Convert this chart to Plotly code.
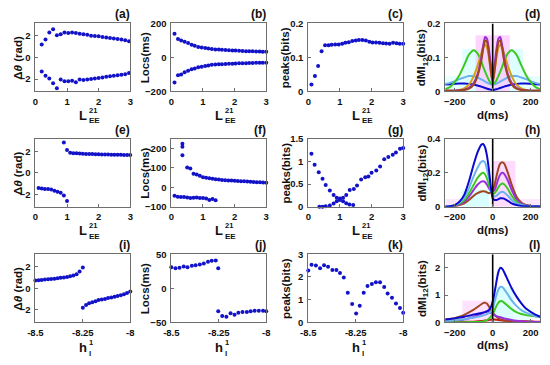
import plotly.graph_objects as go

# ---------------- data ----------------
# (a) phase difference vs L_EE^21
a_x = [0.2, 0.32, 0.44, 0.56, 0.68, 0.8, 0.92, 1.04, 1.16, 1.28, 1.4, 1.52, 1.64, 1.76,
       1.88, 2.0, 2.12, 2.24, 2.36, 2.48, 2.6, 2.72, 2.84, 2.96]
a_up = [1.2, 1.65, 2.3, 2.6, 2.05, 2.15, 2.3, 2.25, 2.3, 2.25, 2.2, 2.15, 2.1, 2.0, 1.98,
        1.95, 1.9, 1.85, 1.8, 1.75, 1.7, 1.65, 1.58, 1.5]
a_lo = [-1.3, -1.7, -1.95, -2.4, -2.85, -2.05, -2.2, -2.2, -2.15, -2.3, -2.05, -2.1, -2.05,
        -2.0, -1.95, -1.9, -1.85, -1.8, -1.75, -1.7, -1.65, -1.6, -1.55, -1.45]

# (b), (c)
bc_x = [0.1, 0.21, 0.31, 0.42, 0.53, 0.64, 0.74, 0.85, 0.96, 1.07, 1.17, 1.28, 1.39, 1.5,
        1.6, 1.71, 1.82, 1.93, 2.03, 2.14, 2.25, 2.36, 2.46, 2.57, 2.68, 2.79, 2.89, 3.0]
b_up = [140, 108, 100, 92, 85, 75, 68, 62, 58, 55, 52, 50, 47, 46, 45, 44, 42, 41, 40, 39,
        38, 37, 36, 36, 35, 35, 34, 34]
b_lo = [-148, -105, -100, -88, -78, -70, -65, -58, -55, -50, -47, -44, -42, -41, -40, -39,
        -38, -37, -36, -35, -35, -34, -33, -33, -32, -32, -31, -31]
c_pk = [0.02, 0.045, 0.075, 0.118, 0.136, 0.136, 0.137, 0.138, 0.138, 0.14, 0.143, 0.145,
        0.148, 0.15, 0.151, 0.151, 0.15, 0.146, 0.144, 0.144, 0.143, 0.142, 0.141, 0.14,
        0.143, 0.142, 0.14, 0.14]

# (e)
e_x_lo = [0.1, 0.2, 0.3, 0.4, 0.5, 0.6, 0.7, 0.8, 0.9, 1.0]
e_lo = [-1.4, -1.45, -1.5, -1.5, -1.55, -1.65, -1.75, -1.85, -2.1, -2.6]
e_x_up = [0.9, 1.0, 1.1, 1.2, 1.3, 1.4, 1.5, 1.6, 1.7, 1.8, 1.9, 2.0, 2.1, 2.2, 2.3, 2.4,
          2.5, 2.6, 2.7, 2.8, 2.9, 3.0]
e_up = [2.8, 2.1, 1.85, 1.82, 1.8, 1.78, 1.76, 1.75, 1.74, 1.73, 1.72, 1.71, 1.7, 1.7,
        1.69, 1.68, 1.68, 1.67, 1.67, 1.66, 1.66, 1.65]

# (f)
f_x_lo = [0.1, 0.2, 0.3, 0.4, 0.5, 0.6, 0.7, 0.8, 0.9, 1.0, 1.1, 1.2, 1.3, 1.4]
f_lo = [-43, -48, -50, -50, -52, -55, -53, -52, -55, -55, -58, -65, -60, -67]
f_x_up = [0.35, 0.35, 0.35, 0.5, 0.6, 0.7, 0.8, 0.9, 1.0, 1.1, 1.2, 1.3, 1.4, 1.5, 1.6,
          1.7, 1.8, 1.9, 2.0, 2.1, 2.2, 2.3, 2.4, 2.5, 2.6, 2.7, 2.8, 2.9, 3.0]
f_up = [225, 210, 165, 102, 97, 70, 66, 60, 52, 50, 47, 45, 42, 40, 38, 37, 36, 35, 34,
        33, 32, 31, 30, 29, 28, 27, 26, 25, 24]

# (g)
g_x1 = [0.1, 0.2, 0.33, 0.45, 0.55, 0.68, 0.8, 0.9, 1.0, 1.1, 1.2, 1.3, 1.42]
g_y1 = [1.17, 0.93, 0.76, 0.62, 0.48, 0.36, 0.26, 0.2, 0.18, 0.12, 0.08, 0.05, 0.04]
g_x2 = [0.35, 0.45, 0.55, 0.68, 0.8, 0.9, 1.0, 1.1, 1.2, 1.31, 1.44, 1.54, 1.67, 1.8, 1.9,
        2.0, 2.15, 2.27, 2.4, 2.53, 2.67, 2.77, 2.9, 3.0]
g_y2 = [0.0, 0.0, 0.01, 0.03, 0.07, 0.12, 0.15, 0.2, 0.26, 0.37, 0.39, 0.47, 0.6, 0.65,
        0.67, 0.75, 0.8, 0.89, 1.05, 1.1, 1.15, 1.2, 1.28, 1.3]

# (i)
i_x1 = [-8.5, -8.483, -8.467, -8.45, -8.433, -8.417, -8.4, -8.383, -8.367, -8.35, -8.333,
        -8.317, -8.3, -8.283, -8.267, -8.25]
i_y1 = [0.72, 0.74, 0.77, 0.8, 0.82, 0.85, 0.88, 0.92, 0.96, 1.0, 1.05, 1.1, 1.18, 1.3,
        1.55, 1.92]
i_x2 = [-8.25, -8.233, -8.217, -8.2, -8.183, -8.167, -8.15, -8.133, -8.117, -8.1, -8.083,
        -8.067, -8.05, -8.033, -8.017, -8.0]
i_y2 = [-1.8, -1.55, -1.4, -1.3, -1.2, -1.1, -1.05, -1.0, -0.9, -0.85, -0.8, -0.72, -0.65,
        -0.55, -0.45, -0.3]

# (j)
j_x1 = [-8.5, -8.478, -8.457, -8.435, -8.415, -8.392, -8.372, -8.35, -8.329, -8.307,
        -8.287, -8.266, -8.253]
j_y1 = [31, 29.5, 30, 32, 31, 33, 34, 35, 36.5, 39, 40.5, 41, 29.5]
j_x2 = [-8.253, -8.232, -8.21, -8.188, -8.167, -8.147, -8.125, -8.102, -8.082, -8.061,
        -8.039, -8.017, -8.0]
j_y2 = [-34, -41, -42, -37, -39, -36, -35, -35, -34, -33, -33, -33, -34]

# (k)
k_x = [-8.5, -8.483, -8.46, -8.438, -8.417, -8.396, -8.373, -8.352, -8.333, -8.313, -8.292,
       -8.269, -8.248, -8.229, -8.208, -8.188, -8.165, -8.144, -8.122, -8.1, -8.082, -8.059,
       -8.038, -8.017, -8.0]
k_y = [2.28, 2.54, 2.5, 2.38, 2.52, 2.45, 2.31, 2.31, 2.17, 1.97, 1.3, 0.8, 0.38, 0.73,
       1.3, 1.6, 1.69, 1.76, 1.76, 1.55, 1.27, 1.08, 0.83, 0.63, 0.42]

# dMI curves (d), (h), (l) sampled at d (ms)
d_ms = [-250, -225, -200, -175, -150, -125, -100, -80, -60, -50, -40, -30, -20, -10, 0,
        10, 20, 30, 40, 50, 60, 80, 100, 125, 150, 175, 200, 225, 250]

d_blue = [0.020, 0.021, 0.022, 0.023, 0.023, 0.022, 0.020, 0.017, 0.014, 0.012, 0.010, 0.008,
          0.006, 0.005, 0.004, 0.005, 0.006, 0.008, 0.010, 0.012, 0.014, 0.017, 0.020, 0.022,
          0.023, 0.023, 0.022, 0.021, 0.020]
d_lblue = [0.022, 0.025, 0.030, 0.036, 0.041, 0.045, 0.045, 0.041, 0.035, 0.032, 0.029, 0.026,
           0.023, 0.021, 0.020, 0.021, 0.023, 0.026, 0.029, 0.032, 0.035, 0.041, 0.045, 0.045,
           0.041, 0.036, 0.030, 0.025, 0.022]
d_green = [0.006, 0.013, 0.027, 0.048, 0.078, 0.108, 0.121, 0.112, 0.088, 0.072, 0.058, 0.045,
           0.033, 0.025, 0.020, 0.025, 0.033, 0.045, 0.058, 0.072, 0.088, 0.112, 0.121, 0.108,
           0.078, 0.048, 0.027, 0.013, 0.006]
d_orange = [0.002, 0.002, 0.002, 0.004, 0.009, 0.020, 0.045, 0.075, 0.112, 0.130, 0.138, 0.128,
            0.100, 0.060, 0.030, 0.060, 0.100, 0.128, 0.138, 0.130, 0.112, 0.075, 0.045, 0.020,
            0.009, 0.004, 0.002, 0.002, 0.002]
d_purple = [0.002, 0.002, 0.002, 0.003, 0.005, 0.010, 0.025, 0.050, 0.100, 0.135, 0.160, 0.155,
            0.125, 0.080, 0.050, 0.080, 0.125, 0.155, 0.160, 0.135, 0.100, 0.050, 0.025, 0.010,
            0.005, 0.003, 0.002, 0.002, 0.002]
d_brown = [0.002, 0.002, 0.002, 0.003, 0.004, 0.008, 0.020, 0.045, 0.090, 0.125, 0.150, 0.145,
           0.110, 0.060, 0.025, 0.060, 0.110, 0.145, 0.150, 0.125, 0.090, 0.045, 0.020, 0.008,
           0.004, 0.003, 0.002, 0.002, 0.002]

h_blue = [0.0, 0.003, 0.01, 0.03, 0.07, 0.15, 0.25, 0.32, 0.365, 0.37, 0.35, 0.3, 0.22, 0.12,
          0.05, 0.04, 0.04, 0.045, 0.05, 0.05, 0.048, 0.035, 0.02, 0.01, 0.005, 0.003, 0.002,
          0.001, 0.001]
h_lblue = [0.0, 0.003, 0.01, 0.025, 0.055, 0.11, 0.18, 0.23, 0.265, 0.27, 0.26, 0.22, 0.17,
           0.11, 0.07, 0.06, 0.065, 0.075, 0.085, 0.088, 0.085, 0.065, 0.04, 0.02, 0.01, 0.005,
           0.003, 0.002, 0.001]
h_green = [0.0, 0.002, 0.008, 0.02, 0.04, 0.08, 0.13, 0.17, 0.195, 0.2, 0.19, 0.165, 0.13,
           0.095, 0.075, 0.08, 0.095, 0.115, 0.13, 0.137, 0.133, 0.105, 0.065, 0.03, 0.013,
           0.006, 0.003, 0.002, 0.001]
h_purple = [0.0, 0.002, 0.006, 0.015, 0.03, 0.06, 0.1, 0.13, 0.148, 0.15, 0.145, 0.13, 0.11,
            0.095, 0.09, 0.1, 0.13, 0.165, 0.19, 0.2, 0.195, 0.155, 0.1, 0.045, 0.018, 0.008,
            0.004, 0.002, 0.001]
h_brown = [0.0, 0.001, 0.004, 0.01, 0.02, 0.04, 0.065, 0.08, 0.09, 0.092, 0.09, 0.085, 0.08,
           0.085, 0.1, 0.13, 0.18, 0.225, 0.255, 0.262, 0.255, 0.2, 0.13, 0.06, 0.025, 0.01,
           0.005, 0.002, 0.001]

l_blue = [0.1, 0.12, 0.14, 0.17, 0.2, 0.24, 0.28, 0.31, 0.34, 0.35, 0.37, 0.4, 0.45, 0.55,
          0.75, 1.1, 1.5, 1.85, 2.0, 1.97, 1.85, 1.55, 1.25, 0.95, 0.7, 0.5, 0.38, 0.28, 0.2]
l_lblue = [0.05, 0.06, 0.07, 0.09, 0.11, 0.14, 0.17, 0.2, 0.23, 0.25, 0.27, 0.3, 0.33, 0.38,
           0.5, 0.75, 1.0, 1.2, 1.3, 1.3, 1.22, 1.02, 0.8, 0.6, 0.45, 0.35, 0.28, 0.22, 0.18]
l_green = [0.0, 0.0, 0.0, 0.0, 0.0, 0.002, 0.005, 0.01, 0.02, 0.03, 0.05, 0.08, 0.13, 0.2,
           0.3, 0.45, 0.6, 0.72, 0.77, 0.77, 0.72, 0.6, 0.48, 0.37, 0.3, 0.26, 0.24, 0.22, 0.2]
l_brown = [0.1, 0.12, 0.15, 0.2, 0.27, 0.36, 0.46, 0.56, 0.66, 0.7, 0.72, 0.68, 0.58, 0.45,
           0.35, 0.27, 0.2, 0.15, 0.11, 0.09, 0.07, 0.05, 0.04, 0.03, 0.02, 0.02, 0.015, 0.01,
           0.01]
l_purple = [0.03, 0.04, 0.05, 0.07, 0.1, 0.14, 0.19, 0.25, 0.31, 0.35, 0.38, 0.4, 0.38, 0.34,
            0.3, 0.26, 0.22, 0.2, 0.18, 0.16, 0.14, 0.11, 0.08, 0.05, 0.03, 0.02, 0.015, 0.01,
            0.01]
l_red = [0.0, 0.0, 0.005, 0.008, 0.01, 0.015, 0.02, 0.03, 0.04, 0.05, 0.06, 0.07, 0.08, 0.09,
         0.1, 0.1, 0.09, 0.08, 0.07, 0.06, 0.055, 0.05, 0.045, 0.04, 0.035, 0.03, 0.025, 0.02,
         0.02]

# faint shaded error-band blocks behind the dMI curves: (panel, x0, x1, y0, y1, colour)
bands = [
    (4, -160, 160, 0, 0.125, "rgba(200,255,255,0.6)"),
    (4, -90, 90, 0, 0.165, "rgba(255,195,255,0.7)"),
    (4, -250, -160, 0, 0.045, "rgba(205,255,255,0.5)"),
    (4, 160, 250, 0, 0.045, "rgba(205,255,255,0.5)"),
    (8, 0, 120, 0, 0.27, "rgba(255,200,255,0.65)"),
    (8, -160, -20, 0, 0.1, "rgba(195,255,255,0.65)"),
    (8, -250, -160, 0, 0.045, "rgba(255,210,255,0.55)"),
    (8, 120, 250, 0, 0.045, "rgba(255,210,255,0.55)"),
    (12, -160, 0, 0, 0.8, "rgba(255,210,255,0.65)"),
    (12, 0, 110, 0, 1.3, "rgba(200,255,255,0.65)"),
    (12, 110, 200, 0, 0.5, "rgba(210,255,255,0.55)"),
]

# ---------------- style / layout ----------------
FONT = "Liberation Sans, Arial, sans-serif"
DOT = "#1212C8"
C_BLUE = "#0A0AD0"
C_LBLUE = "#6CB2F0"
C_GREEN = "#3CC81E"
C_ORANGE = "#D4A014"
C_PURPLE = "#9A30DC"
C_BROWN = "#A0461E"
C_RED = "#C81414"
AX = "#6E6E6E"

W, H = 550, 365
COL_L = [28, 167, 307, 447]
COL_W = 97
ROW_T = [18, 137, 256]
ROW_H = 70

PI = 3.14159265
L_TICKS = dict(xr=[0, 3], xt=[0, 1, 2, 3])
H_TICKS = dict(xr=[-8.5, -8], xt=[-8.5, -8.25, -8], xtt=["-8.5", "-8.25", "-8"])
D_TICKS = dict(xr=[-250, 250], xt=[-200, 0, 200])
panels = {
    1: dict(**L_TICKS, yr=[-PI, PI], yt=[-2, 0, 2]),
    2: dict(**L_TICKS, yr=[-200, 200], yt=[-200, 0, 200]),
    3: dict(**L_TICKS, yr=[0, 0.2], yt=[0, 0.1, 0.2]),
    4: dict(**D_TICKS, yr=[0, 0.2], yt=[0, 0.1, 0.2]),
    5: dict(**L_TICKS, yr=[-PI, PI], yt=[-2, 0, 2]),
    6: dict(**L_TICKS, yr=[-100, 250], yt=[-100, 0, 100, 200]),
    7: dict(**L_TICKS, yr=[0, 1.5], yt=[0, 0.5, 1, 1.5]),
    8: dict(**D_TICKS, yr=[0, 0.4], yt=[0, 0.2, 0.4]),
    9: dict(**H_TICKS, yr=[-PI, PI], yt=[-2, 0, 2]),
    10: dict(**H_TICKS, yr=[-50, 50], yt=[-50, 0, 50]),
    11: dict(**H_TICKS, yr=[0, 3], yt=[0, 1, 2, 3]),
    12: dict(**D_TICKS, yr=[0, 2.5], yt=[0, 1, 2]),
}
letters = "abcdefghijkl"


def geom(n):
    r, c = divmod(n - 1, 4)
    x0 = COL_L[c]
    y0 = ROW_T[r]
    return r, c, x0, x0 + COL_W, y0, y0 + ROW_H


def xa(n):
    return "x" if n == 1 else f"x{n}"


def ya(n):
    return "y" if n == 1 else f"y{n}"


fig = go.Figure()
layout = {}
annotations = []
shapes = []

for n, p in panels.items():
    r, c, x0, x1, y0, y1 = geom(n)
    common = dict(showline=True, mirror=True, linecolor=AX, linewidth=1, showgrid=False,
                  zeroline=False, ticks="inside", ticklen=3, tickcolor=AX, tickwidth=1,
                  tickfont=dict(family=FONT, size=9.5, color="#111", weight="bold"),
                  fixedrange=True)
    xk = "xaxis" if n == 1 else f"xaxis{n}"
    yk = "yaxis" if n == 1 else f"yaxis{n}"
    xd = dict(common, domain=[x0 / W, x1 / W], range=p["xr"], tickvals=p["xt"],
              anchor=ya(n), ticklabelstandoff=1)
    if "xtt" in p:
        xd["ticktext"] = p["xtt"]
    layout[xk] = xd
    layout[yk] = dict(common, domain=[1 - y1 / H, 1 - y0 / H], range=p["yr"],
                      tickvals=p["yt"], anchor=xa(n), ticklabelstandoff=2)
    # panel letter
    annotations.append(dict(text=f"<b>({letters[n-1]})</b>", xref="paper", yref="paper",
                            x=(x1 + 1) / W, y=1 - (y0 - 1) / H, xanchor="right",
                            yanchor="bottom", showarrow=False, borderpad=0,
                            font=dict(family=FONT, size=12, color="#111")))
    # y titles
    ytxt = ["Δ<i>θ</i> (rad)", "Locs(ms)", "peaks(bits)", "dMI<sub>12</sub>(bits)"][c]
    ylx = [10.5, 140, 284, 424][c]
    annotations.append(dict(text=f"<b>{ytxt}</b>", xref="paper", yref="paper",
                            x=ylx / W, y=1 - (y0 + ROW_H / 2) / H, textangle=-90,
                            xanchor="center", yanchor="middle", showarrow=False,
                            borderpad=0, font=dict(family=FONT, size=11.5, color="#111")))
    # x titles
    cx = (x0 + x1) / 2
    if c == 3:
        annotations.append(dict(text="<b>d(ms)</b>", xref="paper", yref="paper",
                                x=cx / W, y=1 - (y1 + 24) / H, xanchor="center",
                                yanchor="middle", showarrow=False, borderpad=0,
                                font=dict(family=FONT, size=11.5, color="#111")))
    else:
        if r < 2:
            main, sup, sub, off = "L", "21", "EE", 24.5
        else:
            main, sup, sub, off = "h", "1", "l", 26
        annotations.append(dict(text=f"<b>{main}</b>", xref="paper", yref="paper",
                                x=(cx + 5) / W, y=1 - (y1 + off) / H, xanchor="right",
                                yanchor="middle", showarrow=False, borderpad=0,
                                font=dict(family=FONT, size=13, color="#111")))
        annotations.append(dict(text=f"<b>{sup}</b>", xref="paper", yref="paper",
                                x=(cx + 5) / W, y=1 - (y1 + off - 5) / H, xanchor="left",
                                yanchor="middle", showarrow=False, borderpad=0,
                                font=dict(family=FONT, size=7.5, color="#111")))
        annotations.append(dict(text=f"<b>{sub}</b>", xref="paper", yref="paper",
                                x=(cx + 5) / W, y=1 - (y1 + off + 6) / H, xanchor="left",
                                yanchor="middle", showarrow=False, borderpad=0,
                                font=dict(family=FONT, size=8, color="#111")))

for (n, bx0, bx1, by0, by1, col) in bands:
    shapes.append(dict(type="rect", xref=xa(n), yref=ya(n), x0=bx0, x1=bx1, y0=by0, y1=by1,
                       fillcolor=col, line=dict(width=0), layer="below"))


def dots(n, x, y):
    fig.add_trace(go.Scatter(x=x, y=y, mode="markers", xaxis=xa(n), yaxis=ya(n),
                             marker=dict(size=4, color=DOT), cliponaxis=False,
                             showlegend=False, hoverinfo="skip"))


def curve(n, y, col):
    fig.add_trace(go.Scatter(x=d_ms, y=y, mode="lines", xaxis=xa(n), yaxis=ya(n),
                             line=dict(color=col, width=2, shape="spline", smoothing=0.6),
                             showlegend=False, hoverinfo="skip"))


def zero_line(n):
    fig.add_trace(go.Scatter(x=[0, 0], y=panels[n]["yr"], mode="lines", xaxis=xa(n),
                             yaxis=ya(n), line=dict(color="black", width=1.6),
                             showlegend=False, hoverinfo="skip"))


dots(1, a_x, a_up); dots(1, a_x, a_lo)
dots(2, bc_x, b_up); dots(2, bc_x, b_lo)
dots(3, bc_x, c_pk)
for yv, col in [(d_blue, C_BLUE), (d_lblue, C_LBLUE), (d_green, C_GREEN),
                (d_orange, C_ORANGE), (d_purple, C_PURPLE), (d_brown, C_BROWN)]:
    curve(4, yv, col)
zero_line(4)
dots(5, e_x_lo, e_lo); dots(5, e_x_up, e_up)
dots(6, f_x_lo, f_lo); dots(6, f_x_up, f_up)
dots(7, g_x1, g_y1); dots(7, g_x2, g_y2)
for yv, col in [(h_brown, C_BROWN), (h_purple, C_PURPLE), (h_green, C_GREEN),
                (h_lblue, C_LBLUE), (h_blue, C_BLUE)]:
    curve(8, yv, col)
zero_line(8)
dots(9, i_x1, i_y1); dots(9, i_x2, i_y2)
dots(10, j_x1, j_y1); dots(10, j_x2, j_y2)
dots(11, k_x, k_y)
for yv, col in [(l_red, C_RED), (l_brown, C_BROWN), (l_purple, C_PURPLE), (l_green, C_GREEN),
                (l_lblue, C_LBLUE), (l_blue, C_BLUE)]:
    curve(12, yv, col)
zero_line(12)

fig.update_layout(**layout)
fig.update_layout(width=W, height=H, margin=dict(l=0, r=0, t=0, b=0),
                  paper_bgcolor="white", plot_bgcolor="white",
                  annotations=annotations, shapes=shapes, showlegend=False,
                  font=dict(family=FONT, color="#111"))
fig.write_html("out.html", config=dict(displayModeBar=False),
               post_script="document.body.style.margin='0px';"
                           "document.body.style.overflow='hidden';")
